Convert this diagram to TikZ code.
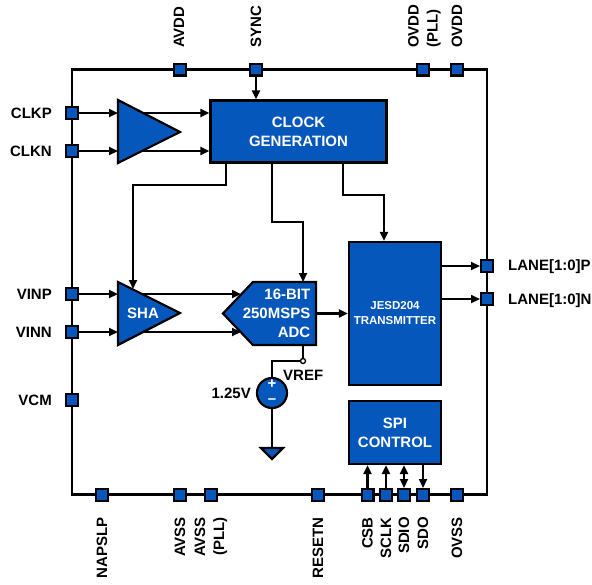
\documentclass[tikz,border=0pt]{standalone}
\usepackage{fontspec}
\setmainfont{Liberation Sans}
\usetikzlibrary{arrows.meta}
\definecolor{adcblue}{RGB}{6,87,187}
\tikzset{
	x=1pt, y=-1pt,
	wire/.style={black, line width=2.2pt},
	sig/.style={wire, -{Triangle[length=9pt,width=8pt]}},
	sigboth/.style={wire, {Triangle[length=9pt,width=8pt]}-{Triangle[length=9pt,width=8pt]}},
	padbox/.style={draw=black, line width=2.2pt, fill=adcblue, minimum size=11.8pt, inner sep=0pt},
	block/.style={draw=black, line width=2.2pt, fill=adcblue, inner sep=0pt, align=center, text=white, font=\bfseries\fontsize{15}{19}\selectfont},
	shapefill/.style={draw=black, line width=2.2pt, fill=adcblue, line join=miter},
	pinlabel/.style={inner sep=0pt, font=\bfseries\fontsize{15}{19}\selectfont},
	uplabel/.style={pinlabel, rotate=90, anchor=west, align=left},
	downlabel/.style={pinlabel, rotate=90, anchor=east, align=right},
}
\begin{document}
\begin{tikzpicture}
	\useasboundingbox (0,0) rectangle (592,584);
	% package outline
	\draw[wire] (72,69.5) rectangle (487,494.5);

	% blocks
	\node[block, minimum width=176pt, minimum height=62pt] (clockgen) at (298.5,131.5) {CLOCK\\GENERATION};
	\node[block, minimum width=92pt, minimum height=143pt, font=\bfseries\fontsize{11.5}{15}\selectfont] (jesd) at (395,313.5) {JESD204\\TRANSMITTER};
	\node[block, minimum width=92pt, minimum height=63pt] (spi) at (395,432.5) {SPI\\CONTROL};

	% amplifiers and converter
	\coordinate (clkampa) at (118,100);
	\coordinate (clkampb) at (118,163);
	\coordinate (clkampc) at (180,132);
	\coordinate (shaa) at (118,282);
	\coordinate (shab) at (118,345);
	\coordinate (shac) at (180,313);
	\coordinate (adctip) at (223,313.5);
	\coordinate (adctl) at (253,282);
	\coordinate (adctr) at (316,282);
	\coordinate (adcbr) at (316,345);
	\coordinate (adcbl) at (253,345);
	\coordinate (adcinp) at (241,294);
	\coordinate (adcinn) at (241,332);

	% pins, top
	\node[padbox] (avdd) at (180,69.5) {};
	\node[padbox] (sync) at (256,69.5) {};
	\node[padbox] (ovddpll) at (423,69.5) {};
	\node[padbox] (ovdd) at (457,69.5) {};
	% pins, left
	\node[padbox] (clkp) at (72,113) {};
	\node[padbox] (clkn) at (72,151) {};
	\node[padbox] (vinp) at (72,294) {};
	\node[padbox] (vinn) at (72,332) {};
	\node[padbox] (vcm) at (72,400) {};
	% pins, right
	\node[padbox] (lanep) at (487,266) {};
	\node[padbox] (lanen) at (487,299) {};
	% pins, bottom
	\node[padbox] (napslp) at (102,495) {};
	\node[padbox] (avss) at (180,495) {};
	\node[padbox] (avsspll) at (211,495) {};
	\node[padbox] (resetn) at (318,495) {};
	\node[padbox] (csb) at (367.5,495) {};
	\node[padbox] (sclk) at (386,495) {};
	\node[padbox] (sdio) at (404,495) {};
	\node[padbox] (sdo) at (423,495) {};
	\node[padbox] (ovss) at (457,495) {};

	% signals, drawn under the amplifiers
	\draw[sig] (clkp) -- (clkampa |- clkp);
	\draw[sig] (clkn) -- (clkampa |- clkn);
	\draw[sig] (clkampa |- clkp) -- (clockgen.west |- clkp);
	\draw[sig] (clkampa |- clkn) -- (clockgen.west |- clkn);
	\draw[sig] (vinp) -- (shaa |- vinp);
	\draw[sig] (vinn) -- (shaa |- vinn);
	\draw[sig] (shaa |- vinp) -- (adcinp);
	\draw[sig] (shaa |- vinn) -- (adcinn);

	\filldraw[shapefill] (clkampa) -- (clkampc) -- (clkampb) -- cycle;
	\filldraw[shapefill] (shaa) -- (shac) -- (shab) -- cycle;
	\filldraw[shapefill] (adctip) -- (adctl) -- (adctr) -- (adcbr) -- (adcbl) -- cycle;
	\node[inner sep=0pt, text=white, font=\bfseries\fontsize{15}{19}\selectfont] (shatext) at (143,313) {SHA};
	\node[inner sep=0pt, text=white, align=right, anchor=east, font=\bfseries\fontsize{15}{19}\selectfont] (adctext) at (310.5,313) {16-BIT\\250MSPS\\ADC};

	% clock distribution
	\coordinate (clkouta) at (226,163);
	\coordinate (clkoutb) at (272,163);
	\coordinate (clkoutc) at (343,163);
	\coordinate (shabend) at (133,185);
	\coordinate (adcbend) at (303,222);
	\coordinate (jesdbend) at (384,195);
	\coordinate (shaclk) at (133,289);
	\coordinate (adcclk) at (303,282);
	\draw[sig] (sync) -- (sync |- clockgen.north);
	\draw[sig] (clkouta) |- (shabend) -- (shaclk);
	\draw[sig] (clkoutb) |- (adcbend) -- (adcclk);
	\draw[sig] (clkoutc) |- (jesdbend) -- (jesdbend |- jesd.north);

	% data
	\draw[sig] (adctr |- jesd.west) -- (jesd.west);
	\draw[sig] (jesd.east |- lanep) -- (lanep);
	\draw[sig] (jesd.east |- lanen) -- (lanen);

	% reference
	\node[circle, draw=black, line width=1.4pt, fill=white, minimum size=5pt, inner sep=0pt] (vrefdot) at (303,361) {};
	\node[circle, draw=black, line width=2.2pt, fill=adcblue, minimum size=30pt, inner sep=0pt] (vsrc) at (272,393) {};
	\node[inner sep=0pt, text=white, font=\bfseries\fontsize{15}{15}\selectfont] (plus) at (272,384.5) {+};
	\node[inner sep=0pt, text=white, font=\bfseries\fontsize{15}{15}\selectfont] (minus) at (272,401.5) {--};
	\coordinate (gndtop) at (272,448);
	\coordinate (gndl) at (261,448);
	\coordinate (gndr) at (283,448);
	\coordinate (gndb) at (272,459);
	\draw[wire] (vrefdot |- adcbr) -- (vrefdot);
	\draw[wire] (vrefdot) -| (vsrc);
	\draw[wire] (vsrc) -- (gndtop);
	\filldraw[shapefill] (gndl) -- (gndr) -- (gndb) -- cycle;
	\node[pinlabel, anchor=west] (vreflabel) at (283,375.5) {VREF};
	\node[pinlabel, anchor=east] (vsrclabel) at (251,393) {1.25V};

	% spi
	\draw[sig] (csb) -- (csb |- spi.south);
	\draw[sig] (sclk) -- (sclk |- spi.south);
	\draw[sigboth] (sdio) -- (sdio |- spi.south);
	\draw[sig] (sdo |- spi.south) -- (sdo);

	% labels
	\node[uplabel] (avddlabel) at (179,48) {AVDD};
	\node[uplabel] (synclabel) at (256,48) {SYNC};
	\node[uplabel] (ovddplllabel) at (424.5,48) {OVDD\\(PLL)};
	\node[uplabel] (ovddlabel) at (457,48) {OVDD};
	\node[pinlabel, anchor=east] (clkplabel) at (52,113) {CLKP};
	\node[pinlabel, anchor=east] (clknlabel) at (52,151) {CLKN};
	\node[pinlabel, anchor=east] (vinplabel) at (52,294) {VINP};
	\node[pinlabel, anchor=east] (vinnlabel) at (52,332) {VINN};
	\node[pinlabel, anchor=east] (vcmlabel) at (52,400) {VCM};
	\node[pinlabel, anchor=west] (laneplabel) at (508,267) {LANE[1:0]P};
	\node[pinlabel, anchor=west] (lanenlabel) at (508,301) {LANE[1:0]N};
	\node[downlabel] (napslplabel) at (102,517) {NAPSLP};
	\node[downlabel] (avsslabel) at (180,517) {AVSS};
	\node[downlabel] (avssplllabel) at (211,517) {AVSS\\(PLL)};
	\node[downlabel] (resetnlabel) at (318,517) {RESETN};
	\node[downlabel] (csblabel) at (367.5,517) {CSB};
	\node[downlabel] (sclklabel) at (386,517) {SCLK};
	\node[downlabel] (sdiolabel) at (404,517) {SDIO};
	\node[downlabel] (sdolabel) at (423,517) {SDO};
	\node[downlabel] (ovsslabel) at (457,517) {OVSS};
\end{tikzpicture}
\end{document}
